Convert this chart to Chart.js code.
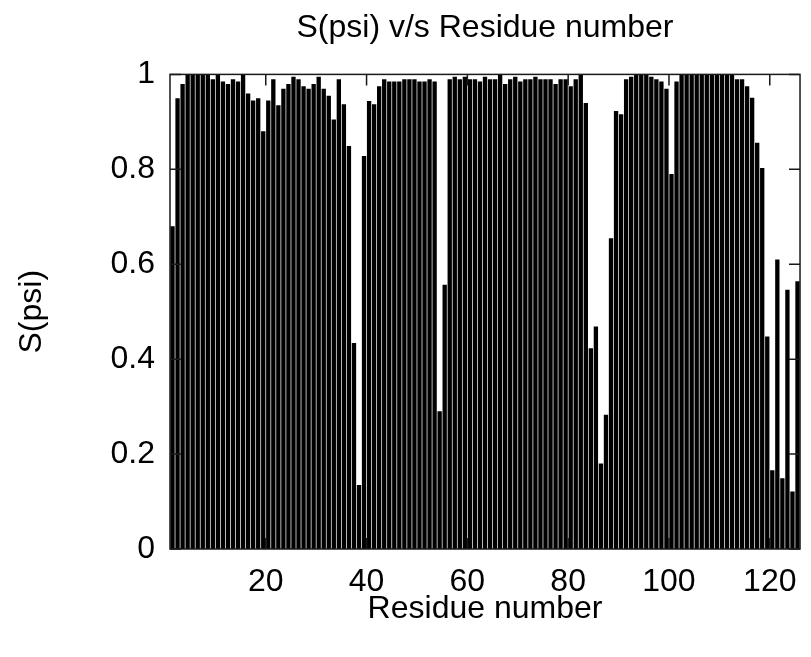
<!DOCTYPE html>
<html>
<head>
<meta charset="UTF-8">
<title>S(psi) v/s Residue number</title>
<style>
body {
	margin: 0;
	background-color: #ffffff;
}
#chart {
	display: block;
}
</style>
<script src="https://cdn.jsdelivr.net/npm/chart.js"></script>
</head>
<body>
<canvas id="chart" width="811" height="657"></canvas>
<script>
// residue numbers along the x axis
const residues = [
	1, 2, 3, 4, 5, 6, 7, 8, 9, 10,
	11, 12, 13, 14, 15, 16, 17, 18, 19, 20,
	21, 22, 23, 24, 25, 26, 27, 28, 29, 30,
	31, 32, 33, 34, 35, 36, 37, 38, 39, 40,
	41, 42, 43, 44, 45, 46, 47, 48, 49, 50,
	51, 52, 53, 54, 55, 56, 57, 58, 59, 60,
	61, 62, 63, 64, 65, 66, 67, 68, 69, 70,
	71, 72, 73, 74, 75, 76, 77, 78, 79, 80,
	81, 82, 83, 84, 85, 86, 87, 88, 89, 90,
	91, 92, 93, 94, 95, 96, 97, 98, 99, 100,
	101, 102, 103, 104, 105, 106, 107, 108, 109, 110,
	111, 112, 113, 114, 115, 116, 117, 118, 119, 120,
	121, 122, 123, 124, 125
];

// S(psi) order parameter per residue
const sPsi = [
	0.68, 0.95, 0.98, 1.00, 1.00, 1.00, 1.00, 1.00, 0.99, 1.00,
	0.985, 0.98, 0.99, 0.985, 1.00, 0.96, 0.945, 0.95, 0.88, 0.945,
	0.99, 0.935, 0.97, 0.98, 0.995, 0.99, 0.975, 0.97, 0.98, 0.995,
	0.97, 0.955, 0.905, 0.99, 0.937, 0.849, 0.434, 0.135, 0.828, 0.944,
	0.937, 0.975, 0.99, 0.985, 0.985, 0.985, 0.99, 0.99, 0.99, 0.985,
	0.985, 0.99, 0.985, 0.29, 0.557, 0.99, 0.995, 0.99, 0.995, 0.99,
	0.99, 0.985, 0.995, 0.99, 0.99, 1.00, 0.98, 0.99, 0.995, 0.985,
	0.99, 0.99, 0.995, 0.99, 0.99, 0.99, 0.98, 0.99, 0.99, 0.975,
	0.99, 1.00, 0.94, 0.423, 0.469, 0.18, 0.283, 0.655, 0.923, 0.916,
	0.99, 0.995, 1.00, 1.00, 1.00, 0.995, 0.99, 0.985, 0.97, 0.79,
	0.985, 1.00, 1.00, 1.00, 1.00, 1.00, 1.00, 1.00, 1.00, 1.00,
	1.00, 1.00, 0.99, 0.99, 0.975, 0.951, 0.856, 0.803, 0.448, 0.166,
	0.61, 0.149, 0.546, 0.121, 0.564
];

const xTickValues = [20, 40, 60, 80, 100, 120];
const yTickStep = 0.2;

const TICK_LEN = 11;
const FONT_SIZE = 32;

// gnuplot style: frame round the plot, ticks pointing inwards, mirrored
const frameTicks = {
	id: 'frameTicks',
	afterDatasetsDraw(chart) {
		const ctx = chart.ctx;
		const a = chart.chartArea;
		const x = chart.scales.x;
		const y = chart.scales.y;
		ctx.save();
		ctx.strokeStyle = '#1a1a1a';
		ctx.lineWidth = 1.5;
		ctx.beginPath();
		y.ticks.forEach(t => {
			const py = y.getPixelForValue(t.value);
			ctx.moveTo(a.left, py);
			ctx.lineTo(a.left + TICK_LEN, py);
			ctx.moveTo(a.right, py);
			ctx.lineTo(a.right - TICK_LEN, py);
		});
		x.ticks.forEach(t => {
			const px = x.getPixelForValue(t.value);
			ctx.moveTo(px, a.bottom);
			ctx.lineTo(px, a.bottom - TICK_LEN);
			ctx.moveTo(px, a.top);
			ctx.lineTo(px, a.top + TICK_LEN);
		});
		ctx.stroke();
		ctx.strokeRect(a.left, a.top, a.right - a.left, a.bottom - a.top);
		ctx.restore();
	}
};

Chart.defaults.font.family = "'Liberation Sans', Arial, sans-serif";
Chart.defaults.font.size = FONT_SIZE;
Chart.defaults.color = '#000000';

// each box covers [residue, residue + 1] on the axis
const points = residues.map((r, i) => ({ x: r + 0.5, y: sPsi[i] }));

new Chart(document.getElementById('chart'), {
	type: 'bar',
	data: {
		datasets: [{
			label: 'S(psi)',
			data: points,
			backgroundColor: '#000000',
			borderWidth: 0,
			categoryPercentage: 1.0,
			barPercentage: 0.86
		}]
	},
	options: {
		responsive: false,
		animation: false,
		layout: {
			padding: { left: 0, right: 8, top: 0, bottom: 0 }
		},
		plugins: {
			legend: { display: false },
			tooltip: { enabled: false },
			title: {
				display: true,
				text: 'S(psi) v/s Residue number',
				fullSize: false,
				font: { size: FONT_SIZE, weight: 'normal' },
				padding: { top: 9, bottom: 27 }
			}
		},
		scales: {
			x: {
				type: 'linear',
				min: 1,
				max: 126,
				offset: false,
				grid: { display: false, drawTicks: false },
				border: { display: false },
				afterBuildTicks: axis => {
					axis.ticks = xTickValues.map(v => ({ value: v }));
				},
				afterFit: axis => { axis.height = 108; },
				ticks: {
					padding: 14,
					maxRotation: 0
				},
				title: {
					display: true,
					text: 'Residue number',
					padding: { top: 0, bottom: 29 }
				}
			},
			y: {
				min: 0,
				max: 1,
				grid: { display: false, drawTicks: false },
				border: { display: false },
				afterFit: axis => { axis.width = 170; },
				ticks: {
					stepSize: yTickStep,
					padding: 15,
					callback: v => String(Number(v.toFixed(2)))
				},
				title: {
					display: true,
					text: 'S(psi)',
					padding: { top: 13, bottom: 0 }
				}
			}
		}
	},
	plugins: [frameTicks]
});
</script>
</body>
</html>
